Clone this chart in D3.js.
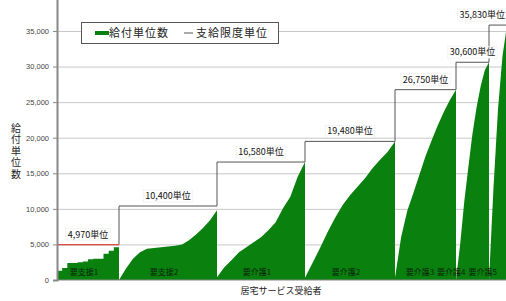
<!DOCTYPE html>
<html>
<head>
<meta charset="utf-8">
<style>
	body { margin: 0; background: #fff; }
	svg { display: block; font-family: "Noto Sans CJK JP", sans-serif; }
	.grid line { stroke: #c8c8c8; }
	.grid path { display: none; }
	.yaxis path, .yaxis line { stroke: #888; }
	.yaxis path { stroke-width: 2; }
	.yaxis text { fill: #444; font-size: 7.5px; }
	.limit-label { font-size: 9px; fill: #111; }
	.cat-label { font-size: 8px; fill: #0c240c; }
</style>
</head>
<body>
<svg width="506" height="301"></svg>

<script src="https://cdn.jsdelivr.net/npm/d3@7"></script>
<script>
const width = 506;
const height = 301;

// groups (要支援1 .. 要介護5)
const categories = ["要支援1", "要支援2", "要介護1", "要介護2", "要介護3", "要介護4", "要介護5"];
const limits = [4970, 10400, 16580, 19480, 26750, 30600, 35830];
// relative number of recipients in each group (width of the group)
const recipients = [62, 98, 88, 90, 61, 33, 18];

// sorted 給付単位数 inside each group, read at evenly spaced points
const profile1 = [1300, 1700, 2400, 2400, 2500, 2600, 2900, 3000, 3000, 3700, 4100, 4600, 4970];
const profile2 = [0, 1600, 3000, 3900, 4400, 4500, 4600, 4700, 4800, 5000, 5600, 6400, 7300, 8400, 9800];
const profile3 = [400, 1800, 2800, 3900, 4600, 5300, 6000, 7000, 8100, 10100, 11700, 14500, 16580];
const profile4 = [300, 2400, 4500, 6700, 8700, 10500, 11900, 13100, 14300, 15700, 16900, 18000, 19480];
const profile5 = [300, 6000, 9700, 12200, 14800, 17400, 19600, 21700, 23600, 25300, 26750];
const profile6 = [0, 5000, 11000, 15900, 20600, 24300, 27300, 29500, 30600];
const profile7 = [0, 13000, 24000, 31500, 35830];
const profiles = [profile1, profile2, profile3, profile4, profile5, profile6, profile7];

const yTicks = [0, 5000, 10000, 15000, 20000, 25000, 30000, 35000];

const svg = d3.select("svg");

const x = d3.scaleLinear()
	.domain([0, d3.sum(recipients)])
	.range([57, 507]);

const y = d3.scaleLinear()
	.domain([0, 40000])
	.range([280, -4.6]);

const starts = [];
recipients.reduce(function(acc, n) { starts.push(acc); return acc + n; }, 0);

// gridlines
svg.append("g")
	.attr("class", "grid")
	.attr("transform", "translate(57,0)")
	.call(d3.axisLeft(y).tickValues(yTicks.slice(1)).tickSize(-450).tickFormat(""));

// green areas
const area = d3.area()
	.x(d => x(d.n))
	.y0(y(0))
	.y1(d => y(d.v));

profiles.forEach(function(p, i) {
	const pts = p.map((v, j) => ({ n: starts[i] + recipients[i] * j / (p.length - 1), v: v }));
	svg.append("path")
		.datum(pts)
		.attr("fill", "#0a800f")
		.attr("d", area.curve(i === 0 ? d3.curveStepAfter : d3.curveLinear));
});

// baseline
svg.append("line")
	.attr("x1", 57).attr("x2", 507)
	.attr("y1", y(0)).attr("y2", y(0))
	.attr("stroke", "#888");

// 支給限度単位 step line
const stepPts = categories.map((c, i) => ({ n: starts[i], v: limits[i] }));
stepPts.push({ n: d3.sum(recipients), v: limits[limits.length - 1] });

svg.append("path")
	.datum(stepPts)
	.attr("fill", "none")
	.attr("stroke", "#555")
	.attr("stroke-width", 1)
	.attr("d", d3.line().x(d => x(d.n)).y(d => y(d.v)).curve(d3.curveStepAfter));

svg.append("line")
	.attr("x1", x(starts[0])).attr("x2", x(starts[1]))
	.attr("y1", y(limits[0])).attr("y2", y(limits[0]))
	.attr("stroke", "#e04848")
	.attr("stroke-width", 1.3);

// limit labels
categories.forEach(function(c, i) {
	const txt = d3.format(",")(limits[i]) + "単位";
	const cx = (x(starts[i]) + x(starts[i] + recipients[i])) / 2;
	const g = svg.append("g");
	const t = g.append("text")
		.attr("class", "limit-label")
		.attr("text-anchor", "middle")
		.attr("x", cx)
		.attr("y", y(limits[i]) - 7)
		.text(txt);
	const w = t.node().getComputedTextLength();
	let left = cx - w / 2;
	if (left + w > 505) {
		left = 505 - w;
		t.attr("x", left + w / 2);
	}
	g.insert("rect", "text")
		.attr("x", left - 2)
		.attr("y", y(limits[i]) - 16)
		.attr("width", w + 4)
		.attr("height", 12)
		.attr("fill", "#fff")
		.attr("stroke", "#d8d8d8")
		.attr("stroke-dasharray", "1,1")
		.attr("stroke-width", 0.6);
});

// category labels at the bottom, packed from the right
const catLabels = svg.selectAll(".cat-label")
	.data(categories)
	.enter()
	.append("text")
		.attr("class", "cat-label")
		.attr("text-anchor", "middle")
		.attr("y", 275)
		.text(d => d);

let limitRight = 497;
for (let i = categories.length - 1; i >= 0; i--) {
	const node = catLabels.nodes()[i];
	const w = node.getComputedTextLength();
	let cx = (x(starts[i]) + x(starts[i] + recipients[i])) / 2 - 4;
	if (cx + w / 2 > limitRight) cx = limitRight - w / 2;
	d3.select(node).attr("x", cx);
	limitRight = cx - w / 2 - 3;
}

// y axis
svg.append("g")
	.attr("class", "yaxis")
	.attr("transform", "translate(57,0)")
	.call(d3.axisLeft(y).tickValues(yTicks).tickSize(4).tickPadding(4).tickFormat(d3.format(",")));

// y axis title, written top to bottom
svg.append("text")
	.attr("x", 16)
	.attr("y", 123)
	.attr("font-size", 10)
	.attr("fill", "#222")
	.attr("letter-spacing", 1.5)
	.style("writing-mode", "vertical-rl")
	.text("給付単位数");

// x axis title
svg.append("text")
	.attr("x", 281)
	.attr("y", 294)
	.attr("font-size", 9)
	.attr("fill", "#222")
	.attr("text-anchor", "middle")
	.text("居宅サービス受給者");

// legend
const legend = svg.append("g");
legend.append("rect")
	.attr("x", 81.5).attr("y", 22.5)
	.attr("width", 197).attr("height", 21)
	.attr("fill", "#fff")
	.attr("stroke", "#555");
legend.append("line")
	.attr("x1", 95).attr("x2", 109)
	.attr("y1", 33).attr("y2", 33)
	.attr("stroke", "#0a800f")
	.attr("stroke-width", 4);
legend.append("text")
	.attr("x", 109).attr("y", 37)
	.attr("font-size", 11)
	.attr("letter-spacing", 1)
	.attr("fill", "#222")
	.text("給付単位数");
legend.append("line")
	.attr("x1", 184).attr("x2", 193)
	.attr("y1", 33).attr("y2", 33)
	.attr("stroke", "#555");
legend.append("text")
	.attr("x", 196).attr("y", 37)
	.attr("font-size", 11)
	.attr("letter-spacing", 1)
	.attr("fill", "#222")
	.text("支給限度単位");
</script>
</body>
</html>
